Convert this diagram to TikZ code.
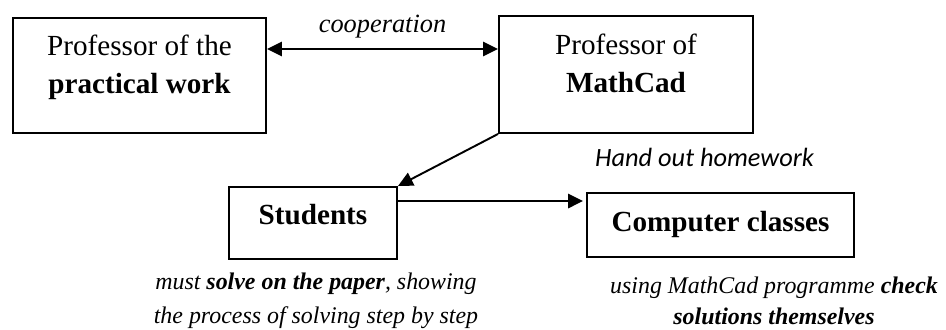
\documentclass[tikz,border=0pt]{standalone}
\usepackage{fontspec}
\setmainfont{Liberation Serif}
\newfontfamily\calibri{Carlito}
\usetikzlibrary{arrows.meta}
\begin{document}
\begin{tikzpicture}[x=0.02cm, y=-0.02cm, >={Triangle[length=8.5pt,width=8pt]}]
        \tikzstyle{box}=[draw, line width=1.1pt, align=center, inner sep=0pt, font=\fontsize{16.6}{22}\selectfont]
        \tikzstyle{note}=[align=center, inner sep=0pt, font=\fontsize{13.6}{19.4}\selectfont\itshape]
        \tikzstyle{linenode}=[midway, above=0.2cm, inner sep=0pt, font=\fontsize{15}{18}\selectfont\itshape]
        \useasboundingbox (0,0) rectangle (946,329);
        \node[box, minimum width=5.06cm, minimum height=2.3cm, text depth=13pt] (prac) at (139.5,75.5) {Professor of the\\\textbf{practical work}};
        \node[box, minimum width=5.08cm, minimum height=2.34cm, text depth=13pt] (mcad) at (626,74.5) {Professor of\\\textbf{MathCad}};
        \node[box, minimum width=3.36cm, minimum height=1.44cm, text depth=10pt] (stud) at (313,223) {\textbf{Students}};
        \node[box, minimum width=5.34cm, minimum height=1.28cm, text depth=4.6pt] (comp) at (720.5,225) {\textbf{Computer classes}};
        \node[anchor=base, inner sep=0pt, font=\calibri\itshape\fontsize{15}{18}\selectfont] (hw) at (704.5,166) {Hand out homework};
        \node[note, anchor=north] (paper) at (316,272.5) {must \textbf{solve on the paper}, showing\\the process of solving step by step};
        \node[note, anchor=north, font=\fontsize{13.6}{17.5}\selectfont\itshape] (check) at (774,277) {using MathCad programme \textbf{check}\\\textbf{solutions themselves}};
        \coordinate (coop) at ([yshift=0.53cm]prac.east);
        \coordinate (hand) at ([yshift=0.44cm]stud.east);
        \path [<->, line width=1.5pt] (coop) edge[] node[linenode] {cooperation} (coop -| mcad.west);
        \path [->, line width=1.1pt] (mcad.south west) edge[] (stud.north east);
        \path [->, line width=1.6pt] (hand) edge[shorten >=0.06cm] (hand -| comp.west);
    \end{tikzpicture}
\end{document}
